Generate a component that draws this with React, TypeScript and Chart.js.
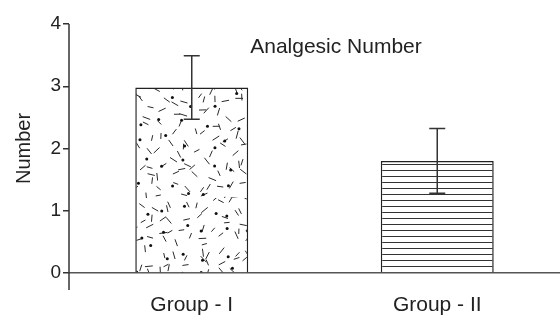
import React, { useEffect, useRef } from "react";
import { Chart, registerables } from "chart.js";

Chart.register(...registerables);

const categories = ["Group - I", "Group - II"];
const meanValues = [2.98, 1.8];
const errorValues = [0.51, 0.52];
const yTicks = [0, 1, 2, 3, 4];
const chartTitle = "Analgesic Number";
const yTitle = "Number";
const FONT = "'Liberation Sans', Arial, Helvetica, sans-serif";

function makeSpecklePattern(ctx: CanvasRenderingContext2D) {
  const W = 132;
  const H = 198;
  const c = document.createElement("canvas");
  c.width = W;
  c.height = H;
  const g = c.getContext("2d")!;
  g.fillStyle = "#ffffff";
  g.fillRect(0, 0, W, H);
  let s = 424242;
  const rnd = () => {
    s = (s * 1103515245 + 12345) % 2147483648;
    return s / 2147483648;
  };
  g.strokeStyle = "#2a2a2a";
  g.lineWidth = 1;
  const dc = 12;
  for (let gy = 0; gy < H; gy += dc) {
    for (let gx = 0; gx < W; gx += dc) {
      const x = gx + rnd() * dc;
      const y = gy + rnd() * dc;
      const a = rnd() * Math.PI;
      const l = 2.6 + rnd() * 1.6;
      g.beginPath();
      g.moveTo(x - Math.cos(a) * l, y - Math.sin(a) * l);
      g.lineTo(x + Math.cos(a) * l, y + Math.sin(a) * l);
      g.stroke();
    }
  }
  g.fillStyle = "#111";
  const pc = 22;
  for (let gy = 0; gy < H; gy += pc) {
    for (let gx = 0; gx < W; gx += pc) {
      const x = gx + 3 + rnd() * (pc - 6);
      const y = gy + 3 + rnd() * (pc - 6);
      g.beginPath();
      g.arc(x, y, 1.5, 0, Math.PI * 2);
      g.fill();
    }
  }
  return ctx.createPattern(c, "repeat")!;
}

function makeLinePattern(ctx: CanvasRenderingContext2D) {
  const c = document.createElement("canvas");
  c.width = 8;
  c.height = 6;
  const g = c.getContext("2d")!;
  g.fillStyle = "#ffffff";
  g.fillRect(0, 0, 8, 6);
  g.fillStyle = "#333";
  g.fillRect(0, 2, 8, 1);
  return ctx.createPattern(c, "repeat")!;
}

const errorBarPlugin = {
  id: "errorBars",
  afterDatasetsDraw(chart: any) {
    const ctx = chart.ctx;
    const meta = chart.getDatasetMeta(0);
    const ys = chart.scales.y;
    ctx.save();
    ctx.strokeStyle = "#333";
    ctx.lineWidth = 1.5;
    meta.data.forEach((bar: any, i: number) => {
      const x = bar.x;
      const top = ys.getPixelForValue(meanValues[i] + errorValues[i]);
      const bot = ys.getPixelForValue(meanValues[i] - errorValues[i]);
      ctx.beginPath();
      ctx.moveTo(x, top);
      ctx.lineTo(x, bot);
      ctx.moveTo(x - 8, top);
      ctx.lineTo(x + 8, top);
      ctx.moveTo(x - 8, bot);
      ctx.lineTo(x + 8, bot);
      ctx.stroke();
    });
    ctx.restore();
  },
};

const decorPlugin = {
  id: "decor",
  afterDraw(chart: any) {
    const ctx = chart.ctx;
    const ca = chart.chartArea;
    ctx.save();
    ctx.strokeStyle = "#333";
    ctx.lineWidth = 1.5;
    ctx.beginPath();
    ctx.moveTo(ca.left, ca.top);
    ctx.lineTo(ca.left, ca.bottom + 17);
    ctx.stroke();
    ctx.fillStyle = "#222";
    ctx.font = "21px " + FONT;
    ctx.textAlign = "center";
    ctx.textBaseline = "middle";
    ctx.fillText(chartTitle, ca.left + 267, ca.top + 23);
    ctx.restore();
  },
};

export default function App() {
  const ref = useRef<HTMLCanvasElement>(null);
  useEffect(() => {
    document.body.style.margin = "0";
    const canvas = ref.current!;
    const ctx = canvas.getContext("2d")!;
    const chart = new Chart(ctx, {
      type: "bar",
      data: {
        labels: categories,
        datasets: [
          {
            data: meanValues,
            backgroundColor: [makeSpecklePattern(ctx), makeLinePattern(ctx)],
            borderColor: "#222",
            borderWidth: 1.5,
            barPercentage: 0.46,
            categoryPercentage: 1,
          },
        ],
      },
      options: {
        responsive: false,
        animation: false,
        layout: { padding: { top: 24, left: 0, right: 0, bottom: 0 } },
        plugins: { legend: { display: false }, tooltip: { enabled: false } },
        scales: {
          x: {
            afterFit: (s: any) => {
              s.height = 47;
            },
            grid: { display: false, drawTicks: false },
            border: { display: true, color: "#555", width: 1.5 },
            ticks: {
              padding: 20,
              color: "#222",
              font: { family: FONT, size: 21 },
            },
          },
          y: {
            min: 0,
            max: 4,
            afterFit: (s: any) => {
              s.width = 69;
            },
            afterBuildTicks: (s: any) => {
              s.ticks = yTicks.map((v) => ({ value: v }));
            },
            grid: {
              drawOnChartArea: false,
              drawTicks: true,
              tickLength: 6,
              color: "#333",
              lineWidth: 1.5,
            },
            border: { display: false },
            ticks: {
              padding: 2,
              color: "#222",
              font: { family: FONT, size: 19 },
            },
            title: {
              display: true,
              text: yTitle,
              color: "#222",
              font: { family: FONT, size: 20 },
              padding: { top: 12, bottom: 0 },
            },
          },
        },
      },
      plugins: [errorBarPlugin, decorPlugin],
    });
    return () => chart.destroy();
  }, []);
  return <canvas ref={ref} width={560} height={320} style={{ display: "block" }} />;
}
